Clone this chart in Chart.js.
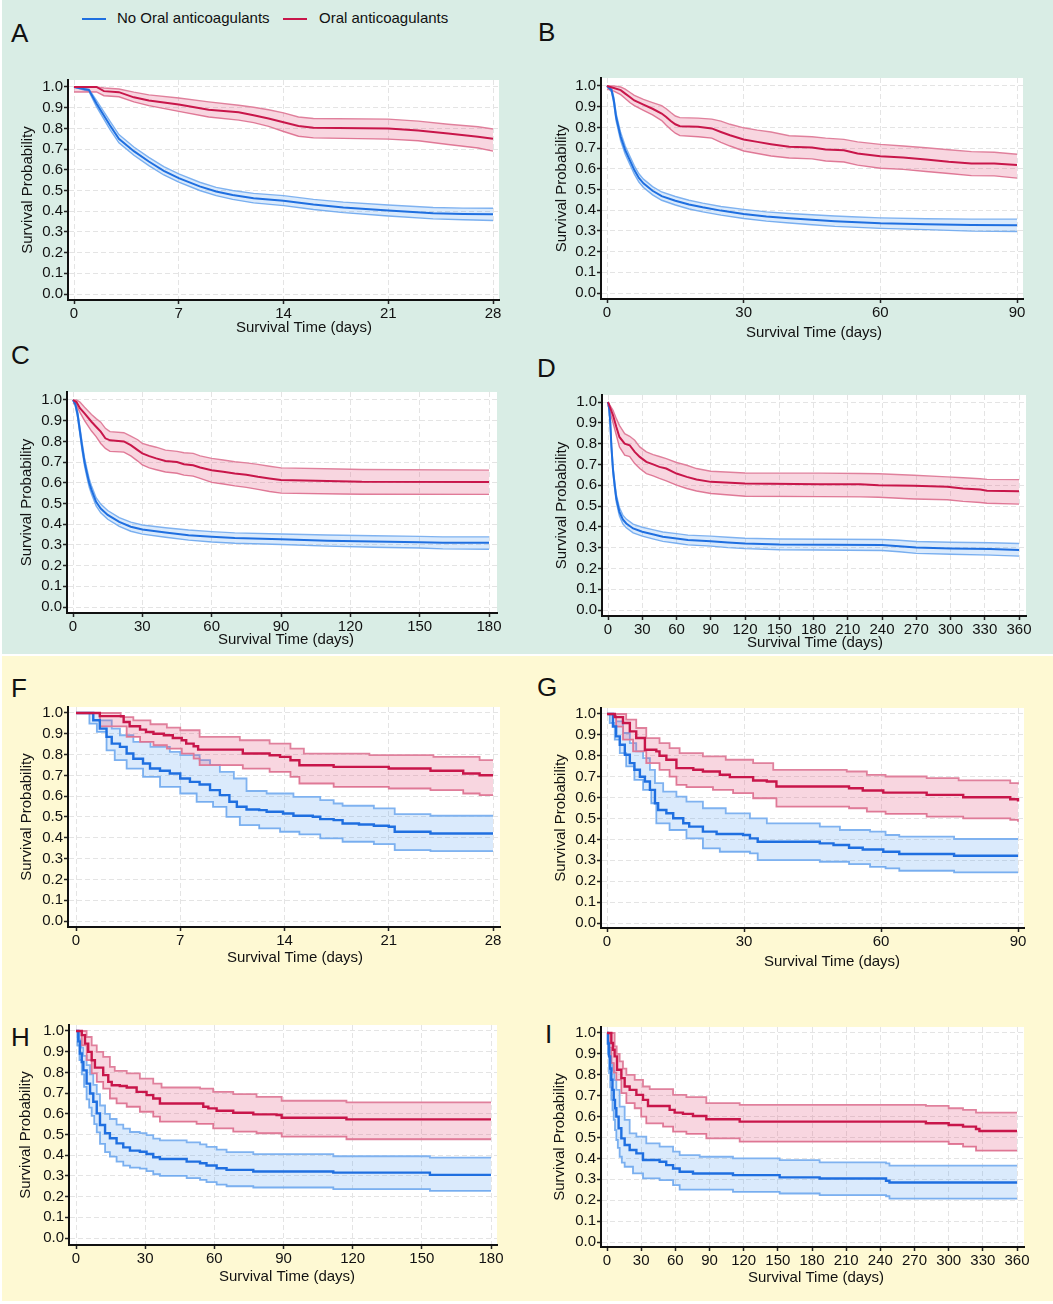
<!DOCTYPE html>
<html>
<head>
<meta charset="utf-8">
<script src="https://cdn.jsdelivr.net/npm/chart.js@4.4.0/dist/chart.umd.min.js"></script>
<style>
  body { margin: 0; width: 1053px; height: 1304px; position: relative; background: #fff; overflow: hidden;
         font-family: "Liberation Sans", Arial, sans-serif; color: #111; }
  .bg { position: absolute; }
  canvas { position: absolute; }
  .letter { position: absolute; font-size: 26px; line-height: 26px; }
  .leg { position: absolute; font-size: 15px; line-height: 15px; white-space: nowrap; }
  .legline { position: absolute; height: 2px; width: 24px; }
</style>
</head>
<body>
<div class="bg" style="left:2px;top:0;width:1051px;height:654px;background:#d9ede5"></div>
<div class="bg" style="left:2px;top:656px;width:1051px;height:645px;background:#fef9d3"></div>

<div class="legline" style="left:82px;top:18px;background:#1f6fe0"></div>
<div class="leg" style="left:117px;top:10px">No Oral anticoagulants</div>
<div class="legline" style="left:283px;top:18px;background:#c8164a"></div>
<div class="leg" style="left:319px;top:10px">Oral anticoagulants</div>

<div class="letter" style="left:11px;top:20px">A</div>
<div class="letter" style="left:538px;top:19px">B</div>
<div class="letter" style="left:11px;top:342px">C</div>
<div class="letter" style="left:537px;top:355px">D</div>
<div class="letter" style="left:11px;top:675px">F</div>
<div class="letter" style="left:537px;top:674px">G</div>
<div class="letter" style="left:11px;top:1024px">H</div>
<div class="letter" style="left:545px;top:1021px">I</div>

<script>
// tick labels
const yTicks = [0, 0.1, 0.2, 0.3, 0.4, 0.5, 0.6, 0.7, 0.8, 0.9, 1.0];
const ticks28 = [0, 7, 14, 21, 28];
const ticks90 = [0, 30, 60, 90];
const ticks180 = [0, 30, 60, 90, 120, 150, 180];
const ticks360 = [0, 30, 60, 90, 120, 150, 180, 210, 240, 270, 300, 330, 360];

// ---- A: 28 days (all patients)
const aNoT  = [0, 1, 1.5, 2.4, 3, 4, 5, 6, 7, 8.4, 9.5, 10.6, 12, 14, 16, 18, 21, 24, 26, 28];
const aNoS  = [1.0, 0.985, 0.92, 0.815, 0.75, 0.69, 0.64, 0.595, 0.56, 0.52, 0.495, 0.478, 0.463, 0.451, 0.432, 0.418, 0.403, 0.39, 0.387, 0.385];
const aNoHi = [1.0, 0.99, 0.935, 0.835, 0.77, 0.71, 0.66, 0.615, 0.58, 0.54, 0.515, 0.5, 0.486, 0.475, 0.457, 0.444, 0.43, 0.418, 0.415, 0.414];
const aNoLo = [1.0, 0.978, 0.905, 0.795, 0.73, 0.67, 0.62, 0.575, 0.54, 0.5, 0.475, 0.457, 0.44, 0.427, 0.408, 0.393, 0.377, 0.363, 0.359, 0.355];
const aOacT  = [0, 1.5, 2, 3, 4, 5, 7, 9, 11, 12, 13, 14, 15, 16, 21, 23, 25, 27, 28];
const aOacS  = [1.0, 1.0, 0.98, 0.975, 0.95, 0.935, 0.915, 0.89, 0.878, 0.864, 0.848, 0.83, 0.812, 0.803, 0.80, 0.79, 0.775, 0.76, 0.75];
const aOacHi = [1.0, 1.0, 0.995, 0.99, 0.975, 0.962, 0.947, 0.928, 0.912, 0.902, 0.89, 0.875, 0.855, 0.848, 0.845, 0.835, 0.82, 0.808, 0.797];
const aOacLo = [0.976, 0.976, 0.958, 0.953, 0.928, 0.91, 0.882, 0.855, 0.84, 0.828, 0.81, 0.785, 0.762, 0.754, 0.748, 0.74, 0.722, 0.705, 0.69];

// ---- B: 90 days
const bNoT  = [0, 1, 1.5, 2, 3, 4, 5, 6, 7, 8, 10, 12, 15, 18, 21, 25, 30, 35, 40, 45, 50, 55, 60, 70, 80, 90];
const bNoS  = [1.0, 0.98, 0.93, 0.85, 0.755, 0.69, 0.642, 0.594, 0.556, 0.53, 0.494, 0.468, 0.446, 0.428, 0.414, 0.398, 0.382, 0.37, 0.361, 0.354, 0.347, 0.342, 0.337, 0.332, 0.328, 0.327];
const bNoHi = [1.0, 0.99, 0.945, 0.868, 0.775, 0.71, 0.662, 0.614, 0.576, 0.55, 0.514, 0.488, 0.466, 0.448, 0.434, 0.418, 0.404, 0.392, 0.384, 0.378, 0.372, 0.367, 0.363, 0.359, 0.357, 0.357];
const bNoLo = [1.0, 0.97, 0.915, 0.832, 0.735, 0.67, 0.622, 0.574, 0.536, 0.51, 0.474, 0.448, 0.425, 0.406, 0.392, 0.376, 0.36, 0.347, 0.338, 0.33, 0.322, 0.317, 0.312, 0.306, 0.299, 0.297];
const bOacT  = [0, 1.5, 3, 4, 5, 6, 8, 10, 12, 13, 14, 15, 16, 20, 23, 25, 27, 30, 33, 36, 40, 45, 48, 52, 55, 60, 65, 70, 75, 80, 85, 90];
const bOacS  = [1.0, 0.99, 0.98, 0.963, 0.947, 0.93, 0.91, 0.89, 0.867, 0.85, 0.831, 0.815, 0.806, 0.803, 0.795, 0.778, 0.762, 0.742, 0.73, 0.719, 0.706, 0.703, 0.693, 0.69, 0.674, 0.661, 0.655, 0.645, 0.634, 0.626, 0.626, 0.618];
const bOacHi = [1.0, 1.0, 0.995, 0.985, 0.97, 0.955, 0.935, 0.92, 0.905, 0.89, 0.872, 0.855, 0.847, 0.845, 0.84, 0.83, 0.815, 0.798, 0.787, 0.778, 0.76, 0.755, 0.748, 0.742, 0.73, 0.718, 0.71, 0.702, 0.692, 0.683, 0.68, 0.67];
const bOacLo = [0.985, 0.975, 0.958, 0.94, 0.92, 0.905, 0.882, 0.86, 0.833, 0.81, 0.79, 0.772, 0.76, 0.755, 0.748, 0.728, 0.71, 0.686, 0.674, 0.662, 0.652, 0.648, 0.638, 0.633, 0.618, 0.603, 0.597, 0.587, 0.577, 0.567, 0.566, 0.555];

// ---- C: 180 days
const cNoT  = [0, 1, 2, 3, 4, 5, 6, 7, 8, 10, 12, 15, 20, 25, 30, 40, 50, 60, 70, 90, 110, 130, 150, 160, 180];
const cNoS  = [1.0, 0.98, 0.93, 0.85, 0.77, 0.70, 0.648, 0.60, 0.566, 0.508, 0.476, 0.445, 0.411, 0.388, 0.374, 0.36, 0.347, 0.339, 0.333, 0.327, 0.32, 0.316, 0.313, 0.31, 0.31];
const cNoHi = [1.0, 0.99, 0.945, 0.868, 0.79, 0.72, 0.668, 0.62, 0.586, 0.528, 0.497, 0.466, 0.432, 0.41, 0.396, 0.383, 0.372, 0.364, 0.358, 0.353, 0.348, 0.344, 0.341, 0.339, 0.339];
const cNoLo = [1.0, 0.97, 0.915, 0.832, 0.75, 0.68, 0.628, 0.58, 0.546, 0.488, 0.455, 0.424, 0.39, 0.366, 0.352, 0.337, 0.323, 0.314, 0.308, 0.302, 0.294, 0.289, 0.285, 0.281, 0.279];
const cOacT  = [0, 1.5, 3, 5, 8, 10, 12, 14, 16, 22, 25, 28, 30, 33, 36, 40, 45, 48, 52, 55, 60, 65, 70, 75, 80, 85, 90, 115, 125, 180];
const cOacS  = [1.0, 0.99, 0.96, 0.935, 0.895, 0.871, 0.847, 0.815, 0.805, 0.8, 0.782, 0.758, 0.742, 0.729, 0.718, 0.705, 0.70, 0.69, 0.685, 0.674, 0.661, 0.653, 0.645, 0.639, 0.629, 0.621, 0.613, 0.608, 0.605, 0.604];
const cOacHi = [1.0, 1.0, 0.99, 0.965, 0.93, 0.91, 0.893, 0.863, 0.847, 0.842, 0.826, 0.808, 0.79, 0.78, 0.772, 0.758, 0.752, 0.745, 0.742, 0.73, 0.718, 0.71, 0.702, 0.696, 0.689, 0.68, 0.672, 0.667, 0.664, 0.661];
const cOacLo = [0.985, 0.975, 0.94, 0.9, 0.85, 0.823, 0.79, 0.766, 0.752, 0.748, 0.73, 0.705, 0.686, 0.672, 0.663, 0.652, 0.646, 0.637, 0.632, 0.621, 0.602, 0.594, 0.585, 0.578, 0.568, 0.558, 0.55, 0.546, 0.545, 0.544];

// ---- D: 360 days
const dNoT  = [0, 1, 2, 3, 4.4, 6, 7.3, 10, 13, 16, 22, 30, 40, 48, 60, 70, 90, 105, 120, 150, 240, 255, 270, 300, 335, 360];
const dNoS  = [1.0, 0.97, 0.9, 0.785, 0.672, 0.592, 0.536, 0.472, 0.435, 0.416, 0.392, 0.376, 0.363, 0.352, 0.344, 0.336, 0.331, 0.325, 0.32, 0.315, 0.312, 0.307, 0.3, 0.296, 0.293, 0.289];
const dNoHi = [1.0, 0.98, 0.915, 0.802, 0.69, 0.61, 0.555, 0.492, 0.456, 0.437, 0.413, 0.398, 0.385, 0.375, 0.367, 0.36, 0.355, 0.35, 0.345, 0.341, 0.339, 0.335, 0.329, 0.326, 0.323, 0.32];
const dNoLo = [1.0, 0.96, 0.885, 0.768, 0.655, 0.575, 0.518, 0.452, 0.414, 0.395, 0.371, 0.355, 0.341, 0.33, 0.321, 0.313, 0.307, 0.3, 0.295, 0.29, 0.286, 0.28, 0.272, 0.268, 0.264, 0.259];
const dOacT  = [0, 4.4, 7.3, 10, 14.6, 19, 23.4, 27.8, 33.6, 39.5, 45, 51, 60, 69, 77.5, 90, 120, 186, 221, 237, 268, 297, 311, 326, 332, 360];
const dOacS  = [1.0, 0.936, 0.88, 0.832, 0.8, 0.792, 0.76, 0.736, 0.712, 0.7, 0.688, 0.68, 0.656, 0.64, 0.627, 0.616, 0.608, 0.605, 0.605, 0.6, 0.597, 0.592, 0.584, 0.579, 0.573, 0.571];
const dOacHi = [1.0, 0.96, 0.92, 0.888, 0.848, 0.835, 0.816, 0.784, 0.76, 0.747, 0.738, 0.728, 0.709, 0.696, 0.68, 0.667, 0.659, 0.658, 0.656, 0.655, 0.648, 0.64, 0.636, 0.631, 0.628, 0.627];
const dOacLo = [0.985, 0.9, 0.84, 0.784, 0.744, 0.738, 0.704, 0.68, 0.656, 0.645, 0.633, 0.621, 0.6, 0.584, 0.572, 0.56, 0.547, 0.545, 0.544, 0.542, 0.534, 0.53, 0.522, 0.517, 0.513, 0.509];

// ---- F: 28 days (subgroup) [day, survival]
const fNo = [[0,1],[0.8,1],[1.16,0.965],[1.6,0.925],[2.05,0.885],[2.4,0.853],[2.95,0.837],[3.4,0.805],[3.85,0.78],[4.5,0.757],[4.97,0.733],[5.64,0.722],[6.3,0.709],[7,0.685],[7.65,0.669],[8.3,0.656],[9,0.629],[9.66,0.605],[10.3,0.573],[10.8,0.549],[11.45,0.536],[12.3,0.533],[12.8,0.525],[13.9,0.517],[14.6,0.506],[15.9,0.501],[16.4,0.49],[17.3,0.485],[17.9,0.469],[19,0.464],[20,0.458],[21,0.453],[21.4,0.429],[23.8,0.421],[28,0.421]];
const fNoHi = [[0,1],[1,1],[1.6,0.965],[2.4,0.925],[2.95,0.893],[3.85,0.861],[5,0.837],[6.3,0.813],[7,0.797],[8.3,0.773],[9,0.749],[9.66,0.717],[10.6,0.685],[11.45,0.625],[12.8,0.613],[14.6,0.597],[16.4,0.581],[17.3,0.565],[17.9,0.554],[20,0.541],[21.4,0.514],[23.8,0.506],[28,0.506]];
const fNoLo = [[0,1],[0.9,0.949],[1.4,0.909],[2.05,0.82],[2.6,0.773],[3.4,0.733],[4.5,0.693],[5.64,0.645],[7,0.613],[8.1,0.573],[9.2,0.549],[10.1,0.501],[11,0.461],[12.3,0.445],[13.7,0.429],[15,0.416],[16.4,0.397],[17.9,0.381],[20,0.37],[21.4,0.341],[23.8,0.336],[28,0.336]];
const fOac = [[0,1],[1.6,0.985],[3.2,0.957],[3.6,0.936],[4.3,0.92],[4.7,0.909],[5.2,0.9],[5.9,0.893],[6.5,0.88],[7.1,0.869],[7.4,0.853],[7.9,0.84],[8.2,0.824],[11.2,0.805],[13,0.797],[13.7,0.789],[14.4,0.773],[15,0.749],[17.3,0.741],[21,0.733],[23.8,0.722],[26,0.709],[27.1,0.701],[28,0.701]];
const fOacHi = [[0,1],[3,0.98],[3.85,0.965],[5,0.946],[6.1,0.93],[7,0.917],[8.3,0.885],[11,0.869],[13,0.853],[14.4,0.829],[15.3,0.805],[19.7,0.797],[24,0.789],[27.1,0.773],[28,0.773]];
const fOacLo = [[0,1],[1.6,0.936],[3.4,0.885],[4.3,0.861],[5.2,0.845],[6.1,0.829],[7.1,0.805],[7.9,0.781],[8.3,0.749],[11.2,0.733],[13,0.717],[14.4,0.693],[15,0.661],[17.3,0.645],[21,0.637],[23.8,0.629],[26,0.613],[27.1,0.605],[28,0.605]];

// ---- G: 90 days (subgroup)
const gNo = [[0,1],[0.6,1],[1.3,0.94],[2,0.893],[2.8,0.853],[3.9,0.805],[5,0.765],[6,0.733],[7.2,0.7],[8.3,0.677],[9.4,0.637],[10.5,0.573],[11.2,0.541],[13,0.525],[14.5,0.501],[16.7,0.477],[18,0.461],[21,0.437],[24,0.426],[29.8,0.421],[31.3,0.405],[33,0.389],[46.6,0.381],[49.6,0.373],[53,0.36],[56,0.352],[60.5,0.341],[64,0.33],[76,0.322],[90,0.322]];
const gNoHi = [[0,1],[0.6,1],[2,0.965],[3.5,0.909],[5,0.861],[6.4,0.821],[7.9,0.789],[9.4,0.733],[10.5,0.669],[12.3,0.629],[15.2,0.605],[17.4,0.581],[21,0.549],[26,0.525],[31.3,0.501],[35,0.477],[46.6,0.461],[51,0.445],[57.6,0.437],[61,0.421],[64,0.413],[76,0.402],[90,0.402]];
const gNoLo = [[0,1],[0.6,0.957],[1.7,0.877],[2.8,0.813],[4.2,0.749],[6,0.685],[7.9,0.637],[9.7,0.573],[10.8,0.477],[13.7,0.445],[17.4,0.405],[21,0.357],[24.7,0.341],[31.3,0.333],[33,0.301],[46.6,0.293],[53,0.282],[57.6,0.269],[61,0.261],[64,0.25],[76,0.242],[90,0.242]];
const gOac = [[0,1],[1.7,0.985],[3.5,0.957],[5,0.917],[6.4,0.885],[8.3,0.829],[10.8,0.821],[11.5,0.8],[13,0.781],[15.2,0.741],[18.9,0.733],[21,0.725],[24.7,0.709],[26.9,0.698],[32,0.682],[35,0.677],[37.1,0.653],[53,0.645],[56,0.634],[60.5,0.624],[70,0.613],[78,0.602],[88.3,0.592],[90,0.581]];
const gOacHi = [[0,1],[2.8,1],[4.2,0.973],[6.4,0.933],[8.6,0.885],[11.5,0.861],[13.7,0.837],[15.9,0.813],[21,0.797],[26,0.781],[32,0.765],[36.4,0.733],[52.5,0.725],[56.9,0.709],[61,0.701],[70,0.693],[77,0.682],[88.3,0.669],[90,0.664]];
const gOacLo = [[0,1],[1.7,1],[2,0.94],[3.5,0.877],[5.7,0.821],[8.6,0.765],[11.5,0.733],[13.7,0.7],[15.2,0.661],[17.4,0.65],[23.2,0.637],[27.6,0.621],[32,0.597],[37.1,0.557],[53,0.549],[56.9,0.533],[61,0.522],[70,0.509],[78,0.501],[88.3,0.493],[90,0.485]];

// ---- H: 180 days (subgroup)
const hNo = [[0,1],[0.6,1],[1,0.95],[1.7,0.891],[2.5,0.85],[3.2,0.81],[4.6,0.746],[6.1,0.698],[7.5,0.658],[9,0.602],[10.4,0.546],[12.6,0.506],[14.7,0.482],[17.6,0.457],[20.5,0.438],[23.4,0.422],[27.7,0.417],[30.6,0.406],[33.5,0.39],[36.4,0.382],[48,0.369],[53.8,0.361],[56.6,0.35],[61,0.337],[65.3,0.329],[76.9,0.321],[111.6,0.316],[153.5,0.305],[180,0.305]];
const hNoHi = [[0,1],[0.6,1],[1.5,0.96],[2.3,0.92],[3.2,0.88],[4.6,0.835],[6.1,0.79],[7.5,0.74],[9,0.695],[10.4,0.64],[12.6,0.6],[14.7,0.575],[17.6,0.548],[20.5,0.528],[23.4,0.512],[27.7,0.507],[30.6,0.497],[33.5,0.48],[36.4,0.472],[48,0.462],[53.8,0.452],[56.6,0.44],[61,0.427],[65.3,0.415],[76.9,0.405],[111.6,0.395],[153.5,0.388],[180,0.388]];
const hNoLo = [[0,1],[0.6,0.93],[1.5,0.86],[2.5,0.79],[3.5,0.73],[4.6,0.67],[5.7,0.63],[6.8,0.59],[7.9,0.55],[9,0.51],[10.4,0.455],[12.6,0.415],[14.7,0.393],[17.6,0.369],[20.5,0.35],[23.4,0.34],[27.7,0.335],[30.6,0.323],[33.5,0.308],[36.4,0.3],[48,0.289],[53.8,0.281],[56.6,0.27],[61,0.258],[65.3,0.25],[76.9,0.244],[111.6,0.236],[153.5,0.228],[180,0.228]];
const hOac = [[0,1],[1.7,1],[2.5,0.98],[3.9,0.939],[5.3,0.899],[6.8,0.859],[8.2,0.823],[11.8,0.787],[14,0.754],[15.5,0.738],[19,0.734],[22,0.727],[26.3,0.706],[30.6,0.69],[33.5,0.674],[36.4,0.65],[55.2,0.634],[57.4,0.626],[61,0.615],[68.2,0.605],[76.9,0.597],[87,0.594],[89.2,0.581],[117.3,0.573],[180,0.573]];
const hOacHi = [[0,1],[3.2,1],[4.6,0.971],[6.8,0.931],[9,0.899],[11.8,0.875],[14.7,0.827],[16.8,0.807],[22,0.795],[27.7,0.77],[33.5,0.746],[37.1,0.727],[53.8,0.722],[59.5,0.706],[68.2,0.695],[78.3,0.682],[89.2,0.663],[117.3,0.655],[180,0.655]];
const hOacLo = [[0,1],[1.7,1],[2.5,0.931],[4.6,0.859],[6.8,0.795],[9,0.754],[11.8,0.722],[14.7,0.674],[17.6,0.65],[22,0.634],[27.7,0.61],[33.5,0.586],[36.4,0.562],[52.3,0.551],[59.5,0.53],[68.2,0.514],[78.3,0.506],[89.2,0.49],[117.3,0.477],[180,0.477]];

// ---- I: 360 days (subgroup)
const iNo = [[0,1],[0.8,0.95],[1.8,0.888],[2.8,0.83],[3.8,0.776],[4.8,0.728],[5.9,0.68],[7,0.64],[8.2,0.6],[10.2,0.544],[12.6,0.496],[15.5,0.464],[19.9,0.44],[25.8,0.424],[31.6,0.392],[46.2,0.384],[52,0.368],[58,0.352],[63.8,0.336],[75.5,0.328],[110.6,0.32],[151.6,0.309],[186.7,0.304],[245,0.293],[248,0.285],[360,0.285]];
const iNoHi = [[0,1],[1,0.96],[2,0.92],[3,0.885],[3.8,0.856],[5,0.82],[6.5,0.775],[8.2,0.728],[11.1,0.648],[15.5,0.584],[19.9,0.52],[25.8,0.504],[34.5,0.472],[46.2,0.456],[58,0.432],[63.8,0.416],[81.4,0.408],[110.6,0.4],[151.6,0.392],[186.7,0.381],[245,0.376],[248,0.365],[360,0.365]];
const iNoLo = [[0,1],[0.8,0.9],[1.8,0.808],[2.8,0.74],[3.8,0.68],[4.8,0.63],[5.9,0.584],[7,0.535],[8.2,0.488],[9.5,0.45],[11.1,0.408],[13,0.38],[15.5,0.36],[22.8,0.328],[31.6,0.304],[46.2,0.296],[58,0.272],[63.8,0.251],[110.6,0.24],[151.6,0.232],[186.7,0.224],[245,0.219],[248,0.208],[360,0.208]];
const iOac = [[0,1],[2,1],[3.8,0.952],[5.2,0.92],[6.7,0.888],[8.8,0.824],[12.6,0.784],[15.5,0.744],[19.9,0.728],[25.8,0.704],[31.6,0.68],[36,0.651],[55,0.632],[59.4,0.619],[66.7,0.613],[75.5,0.603],[87.2,0.587],[116.5,0.576],[280,0.568],[300,0.56],[312.6,0.552],[324,0.541],[327,0.531],[360,0.531]];
const iOacHi = [[0,1],[3.8,1],[6.7,0.936],[8.5,0.9],[11.1,0.864],[14,0.83],[17,0.8],[24.3,0.776],[31.6,0.744],[37.5,0.731],[58,0.704],[69.7,0.693],[87.2,0.664],[116.5,0.656],[280,0.651],[300,0.64],[312.6,0.632],[324,0.619],[360,0.619]];
const iOacLo = [[0,1],[1.5,0.93],[3.8,0.856],[6,0.81],[8.2,0.776],[12.6,0.712],[17,0.664],[24.3,0.64],[30,0.6],[34.5,0.568],[49.2,0.552],[58,0.528],[69.7,0.517],[87.2,0.496],[116.5,0.48],[280,0.48],[300,0.469],[312.6,0.456],[324,0.437],[360,0.437]];

const BLUE = '#1f6fe0', BLUE_CI = '#7fb2f0', BLUE_FILL = 'rgba(70,150,240,0.2)';
const RED = '#c8164a', RED_CI = '#e0809c', RED_FILL = 'rgba(225,70,115,0.22)';
const FONT = '"Liberation Sans", Arial, sans-serif';

function zip(t, v) { return t.map((x, i) => ({ x: x, y: v[i] })); }
function pairs(p) { return p.map(d => ({ x: d[0], y: d[1] })); }

// L/T/R/B = plot box on page; x0/xm/y1/y0 = pixel of first/last tick
const panels = [
  { L: 68, T: 80, R: 499, B: 300, x0: 74, xm: 493, y1: 87, y0: 294, xMax: 28, xt: ticks28, tOff: 28, tx: 304, yOff: 40, step: false,
    no: [zip(aNoT, aNoS), zip(aNoT, aNoHi), zip(aNoT, aNoLo)], oac: [zip(aOacT, aOacS), zip(aOacT, aOacHi), zip(aOacT, aOacLo)] },
  { L: 601, T: 78, R: 1023, B: 299, x0: 607, xm: 1017, y1: 86, y0: 293, xMax: 90, xt: ticks90, tOff: 34, tx: 814, yOff: 39, step: false,
    no: [zip(bNoT, bNoS), zip(bNoT, bNoHi), zip(bNoT, bNoLo)], oac: [zip(bOacT, bOacS), zip(bOacT, bOacHi), zip(bOacT, bOacLo)] },
  { L: 67, T: 392, R: 497, B: 613, x0: 73, xm: 489, y1: 400, y0: 607, xMax: 180, xt: ticks180, tOff: 27, tx: 286, yOff: 40, step: false,
    no: [zip(cNoT, cNoS), zip(cNoT, cNoHi), zip(cNoT, cNoLo)], oac: [zip(cOacT, cOacS), zip(cOacT, cOacHi), zip(cOacT, cOacLo)] },
  { L: 602, T: 395, R: 1026, B: 616, x0: 608, xm: 1019, y1: 402, y0: 610, xMax: 360, xt: ticks360, tOff: 27, tx: 815, yOff: 40, step: false,
    no: [zip(dNoT, dNoS), zip(dNoT, dNoHi), zip(dNoT, dNoLo)], oac: [zip(dOacT, dOacS), zip(dOacT, dOacHi), zip(dOacT, dOacLo)] },
  { L: 68, T: 707, R: 500, B: 927, x0: 76, xm: 493, y1: 713, y0: 921, xMax: 28, xt: ticks28, tOff: 31, tx: 295, yOff: 41, step: true,
    no: [pairs(fNo), pairs(fNoHi), pairs(fNoLo)], oac: [pairs(fOac), pairs(fOacHi), pairs(fOacLo)] },
  { L: 601, T: 708, R: 1024, B: 928, x0: 607, xm: 1018, y1: 714, y0: 923, xMax: 90, xt: ticks90, tOff: 34, tx: 832, yOff: 40, step: true,
    no: [pairs(gNo), pairs(gNoHi), pairs(gNoLo)], oac: [pairs(gOac), pairs(gOacHi), pairs(gOacLo)] },
  { L: 69, T: 1025, R: 497, B: 1245, x0: 76, xm: 491, y1: 1031, y0: 1238, xMax: 180, xt: ticks180, tOff: 32, tx: 287, yOff: 43, step: true,
    no: [pairs(hNo), pairs(hNoHi), pairs(hNoLo)], oac: [pairs(hOac), pairs(hOacHi), pairs(hOacLo)] },
  { L: 601, T: 1027, R: 1024, B: 1247, x0: 607, xm: 1017, y1: 1033, y0: 1242, xMax: 360, xt: ticks360, tOff: 31, tx: 816, yOff: 41, step: true,
    no: [pairs(iNo), pairs(iNoHi), pairs(iNoLo)], oac: [pairs(iOac), pairs(iOacHi), pairs(iOacLo)] }
];

const YW = 52, PADT = 12, PADR = 22;

const plotBg = {
  id: 'plotBg',
  beforeDraw(chart) {
    const a = chart.chartArea, ctx = chart.ctx;
    ctx.save();
    ctx.fillStyle = '#fff';
    ctx.fillRect(a.left, a.top, a.right - a.left, a.bottom - a.top);
    ctx.restore();
  }
};

const xTitle = {
  id: 'xTitle',
  afterDraw(chart, args, opts) {
    const ctx = chart.ctx;
    ctx.save();
    ctx.font = '15px ' + FONT;
    ctx.fillStyle = '#111';
    ctx.textAlign = 'center';
    ctx.textBaseline = 'middle';
    ctx.fillText(opts.text, opts.cx, chart.chartArea.bottom + opts.dy);
    ctx.restore();
  }
};

panels.forEach(p => {
  const cv = document.createElement('canvas');
  const left = p.L - YW, top = p.T - PADT;
  const w = p.R - p.L + YW + PADR;
  const h = PADT + (p.B - p.T) + p.tOff + 9;
  cv.width = w; cv.height = h;
  cv.style.left = left + 'px'; cv.style.top = top + 'px';
  cv.style.width = w + 'px'; cv.style.height = h + 'px';
  document.body.appendChild(cv);

  const pxX = (p.xm - p.x0) / p.xMax;
  const pxY = p.y0 - p.y1;
  const lw = p.step ? 2.4 : 2;
  const cw = p.step ? 1.8 : 1.4;

  const line = (data, color, width, fill, bg) => ({
    data: data, borderColor: color, borderWidth: width, stepped: p.step,
    fill: fill, backgroundColor: bg || 'transparent', pointRadius: 0, tension: 0
  });

  new Chart(cv, {
    type: 'line',
    data: {
      datasets: [
        line(p.oac[0], RED, lw, false),
        line(p.no[0], BLUE, lw, false),
        line(p.oac[1], RED_CI, cw, '+1', RED_FILL),
        line(p.oac[2], RED_CI, cw, false),
        line(p.no[1], BLUE_CI, cw, '+1', BLUE_FILL),
        line(p.no[2], BLUE_CI, cw, false)
      ]
    },
    options: {
      responsive: false,
      animation: false,
      events: [],
      layout: { padding: { top: PADT, right: PADR, left: 0, bottom: 0 } },
      plugins: {
        legend: { display: false },
        tooltip: { enabled: false },
        xTitle: { text: 'Survival Time (days)', cx: p.tx - left, dy: p.tOff }
      },
      scales: {
        x: {
          type: 'linear',
          min: -(p.x0 - p.L) / pxX,
          max: p.xMax + (p.R - p.xm) / pxX,
          afterBuildTicks: s => { s.ticks = p.xt.map(v => ({ value: v })); },
          afterFit: s => { s.height = p.tOff + 9; },
          ticks: { autoSkip: false, maxRotation: 0, padding: 1, color: '#111', font: { size: 15, family: FONT } },
          grid: { color: '#e4e4e4', lineWidth: 1, tickLength: 4, tickColor: '#222', tickWidth: 1.5 },
          border: { display: true, color: '#111', width: 2, dash: [5, 3] },
          title: { display: false }
        },
        y: {
          type: 'linear',
          min: -(p.B - p.y0) / pxY,
          max: 1 + (p.y1 - p.T) / pxY,
          afterBuildTicks: s => { s.ticks = yTicks.map(v => ({ value: v })); },
          afterFit: s => { s.width = YW; },
          ticks: { padding: 1, color: '#111', font: { size: 15, family: FONT }, callback: v => v.toFixed(1) },
          grid: { color: '#e4e4e4', lineWidth: 1, tickLength: 4, tickColor: '#222', tickWidth: 1.5 },
          border: { display: true, color: '#111', width: 2, dash: [5, 3] },
          title: { display: true, text: 'Survival Probability', color: '#111',
                   font: { size: 15, family: FONT }, padding: { top: YW - p.yOff - 9, bottom: 0 } }
        }
      }
    },
    plugins: [plotBg, xTitle]
  });
});
</script>
</body>
</html>
